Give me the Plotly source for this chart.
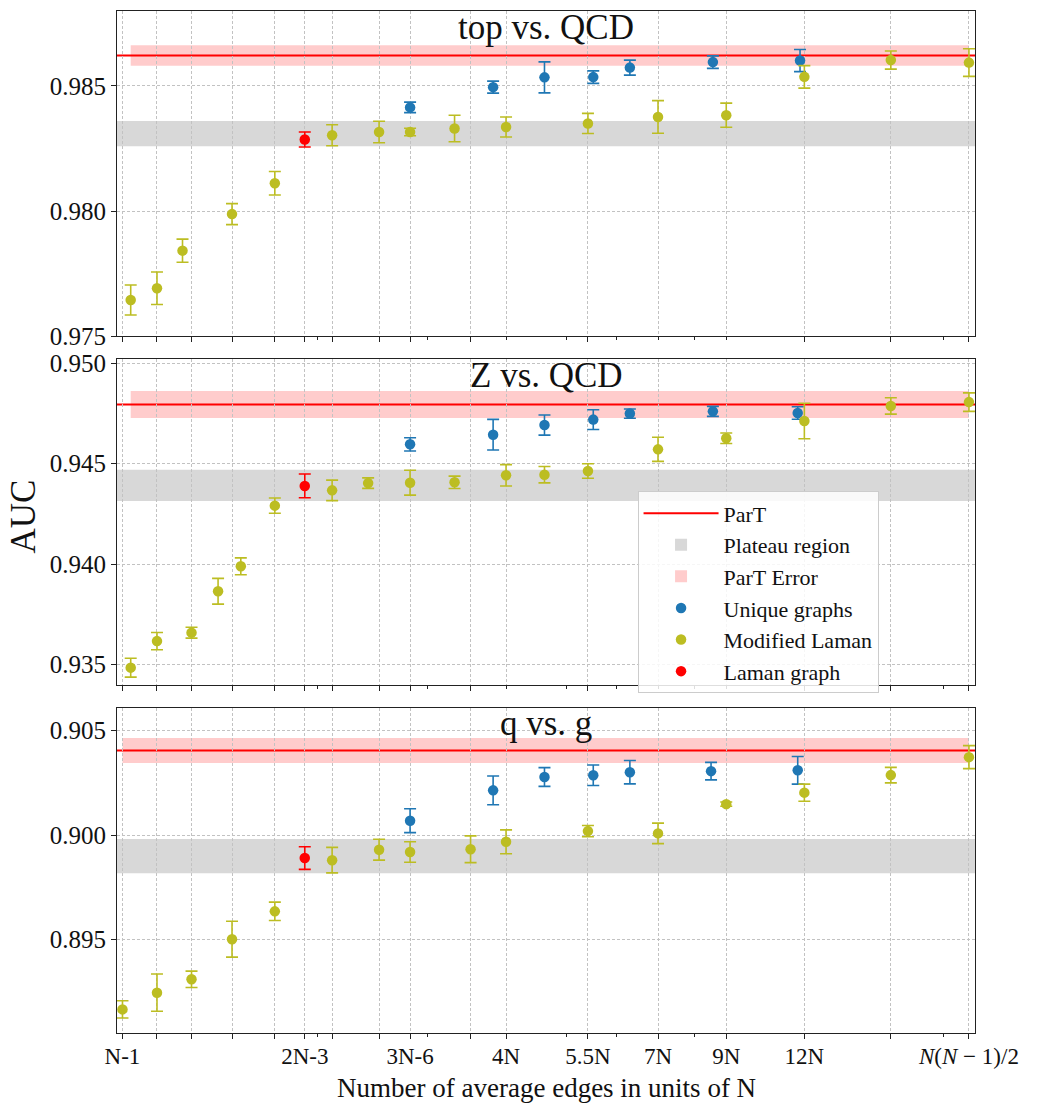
import plotly.graph_objects as go

# ---------------- data (x in units of N, log scale) ----------------
tick_vals = [0.974, 1.106, 1.256, 1.458, 1.707, 1.906, 2.108, 2.506, 2.809, 3.51,
             4.0, 5.408, 7.0, 9.0, 12.0, 16.5, 22.0]
tick_text = ["N-1", "", "", "", "", "2N-3", "", "", "3N-6", "", "4N", "5.5N",
             "7N", "9N", "12N", "", "<i>N</i>(<i>N</i> − 1)/2"]
minor_vals = [2, 3, 4, 5, 6, 7, 8, 9, 20]

panel_titles = ["top vs. QCD", "Z vs. QCD", "q vs. g"]

# top vs QCD
top_ml_x = [1.004, 1.106, 1.215, 1.458, 1.707, 2.108, 2.506, 2.809, 3.309, 4.0, 5.408, 7.0, 9.0, 12.0, 16.5, 22.0]
top_ml_auc = [0.97645, 0.97692, 0.97842, 0.97988, 0.98111, 0.98303, 0.98316, 0.98316, 0.98330, 0.98336,
              0.98350, 0.98376, 0.98383, 0.98536, 0.98603, 0.98593]
top_ml_err = [0.00060, 0.00065, 0.00046, 0.00042, 0.00047, 0.00042, 0.00043, 0.00015, 0.00053, 0.00040,
              0.00040, 0.00065, 0.00048, 0.00045, 0.00036, 0.00055]
top_ug_x = [2.809, 3.814, 4.608, 5.515, 6.311, 8.568, 11.81]
top_ug_auc = [0.98414, 0.98495, 0.98534, 0.98535, 0.98573, 0.98595, 0.98601]
top_ug_err = [0.00021, 0.00024, 0.00062, 0.00025, 0.00030, 0.00025, 0.00044]
top_lm_x = [1.906]
top_lm_auc = [0.98286]
top_lm_err = [0.00030]
top_part, top_part_err = 0.98621, 0.00041
top_plateau = (0.98259, 0.98360)
top_yrange = (0.975, 0.98799)
top_yticks = [0.975, 0.980, 0.985]

# Z vs QCD
z_ml_x = [1.004, 1.106, 1.256, 1.385, 1.506, 1.707, 2.108, 2.407, 2.809, 3.309, 4.0, 4.608, 5.408,
          7.0, 9.0, 12.0, 16.5, 22.0]
z_ml_auc = [0.93485, 0.93617, 0.93659, 0.93865, 0.93989, 0.94291, 0.94367, 0.94403, 0.94405, 0.94407,
            0.94442, 0.94445, 0.94463, 0.94571, 0.94626, 0.94712, 0.94787, 0.94806]
z_ml_err = [0.00047, 0.00043, 0.00027, 0.00064, 0.00042, 0.00038, 0.00051, 0.00026, 0.00062, 0.00031,
            0.00053, 0.00041, 0.00036, 0.00060, 0.00026, 0.00088, 0.00041, 0.00046]
z_ug_x = [2.809, 3.814, 4.608, 5.515, 6.311, 8.568, 11.71]
z_ug_auc = [0.94596, 0.94644, 0.94692, 0.94719, 0.94749, 0.94760, 0.94752]
z_ug_err = [0.00033, 0.00076, 0.00050, 0.00049, 0.00023, 0.00025, 0.00031]
z_lm_x = [1.906]
z_lm_auc = [0.94389]
z_lm_err = [0.00059]
z_part, z_part_err = 0.94794, 0.00067
z_plateau = (0.94314, 0.94470)
z_yrange = (0.93397, 0.95019)
z_yticks = [0.935, 0.940, 0.945, 0.950]

# q vs g
qg_ml_x = [0.974, 1.106, 1.256, 1.458, 1.707, 2.108, 2.506, 2.809, 3.51, 4.0, 5.408, 7.0, 9.0, 12.0, 16.5, 22.0]
qg_ml_auc = [0.89166, 0.89246, 0.89310, 0.89502, 0.89635, 0.89880, 0.89930, 0.89919, 0.89932, 0.89968,
             0.90019, 0.90008, 0.90148, 0.90203, 0.90287, 0.90373]
qg_ml_err = [0.00041, 0.00089, 0.00039, 0.00086, 0.00044, 0.00061, 0.00050, 0.00049, 0.00064, 0.00057,
             0.00027, 0.00049, 0.00010, 0.00041, 0.00037, 0.00055]
qg_ug_x = [2.809, 3.814, 4.608, 5.515, 6.311, 8.51, 11.71]
qg_ug_auc = [0.90069, 0.90214, 0.90278, 0.90286, 0.90301, 0.90306, 0.90310]
qg_ug_err = [0.00057, 0.00069, 0.00045, 0.00049, 0.00056, 0.00042, 0.00066]
qg_lm_x = [1.906]
qg_lm_auc = [0.89890]
qg_lm_err = [0.00054]
qg_part, qg_part_err = 0.90405, 0.00060
qg_plateau = (0.89817, 0.89981)
qg_yrange = (0.89053, 0.90610)
qg_yticks = [0.895, 0.900, 0.905]

# ---------------- style ----------------
FONT = "Liberation Serif"
C_UG = "#1f77b4"
C_ML = "#bcbd22"
C_LM = "#ff0000"
GRID = "#c2c2c2"

panels = [
    dict(ml=(top_ml_x, top_ml_auc, top_ml_err), ug=(top_ug_x, top_ug_auc, top_ug_err),
         lm=(top_lm_x, top_lm_auc, top_lm_err), part=(top_part, top_part_err),
         plateau=top_plateau, yr=top_yrange, yt=top_yticks, dom=[0.6817, 1.0]),
    dict(ml=(z_ml_x, z_ml_auc, z_ml_err), ug=(z_ug_x, z_ug_auc, z_ug_err),
         lm=(z_lm_x, z_lm_auc, z_lm_err), part=(z_part, z_part_err),
         plateau=z_plateau, yr=z_yrange, yt=z_yticks, dom=[0.3402, 0.6592]),
    dict(ml=(qg_ml_x, qg_ml_auc, qg_ml_err), ug=(qg_ug_x, qg_ug_auc, qg_ug_err),
         lm=(qg_lm_x, qg_lm_auc, qg_lm_err), part=(qg_part, qg_part_err),
         plateau=qg_plateau, yr=qg_yrange, yt=qg_yticks, dom=[0.0, 0.3184]),
]

fig = go.Figure()
shapes = []
annotations = []

xrange_log = [-0.0202, 1.3521]

for i, p in enumerate(panels):
    n = i + 1
    xa = "x" if n == 1 else f"x{n}"
    ya = "y" if n == 1 else f"y{n}"
    first = (i == 0)

    # plateau region (full width)
    shapes.append(dict(type="rect", xref=f"{xa} domain", yref=ya, x0=0, x1=1,
                       y0=p["plateau"][0], y1=p["plateau"][1], fillcolor="#d8d8d8",
                       line=dict(width=0), layer="below", showlegend=first,
                       name="Plateau region", legendrank=2))
    # ParT error band (over data x range)
    all_x = p["ml"][0] + p["ug"][0] + p["lm"][0]
    shapes.append(dict(type="rect", xref=xa, yref=ya, x0=min(all_x), x1=max(all_x),
                       y0=p["part"][0] - p["part"][1], y1=p["part"][0] + p["part"][1],
                       fillcolor="rgba(255,0,0,0.2)", line=dict(width=0), layer="below",
                       showlegend=first, name="ParT Error", legendrank=3))
    # ParT line
    shapes.append(dict(type="line", xref=f"{xa} domain", yref=ya, x0=0, x1=1,
                       y0=p["part"][0], y1=p["part"][0], line=dict(color="red", width=2),
                       layer="below", showlegend=first, name="ParT", legendrank=1))

    for key, color, name, rank in [("ug", C_UG, "Unique graphs", 4),
                                    ("ml", C_ML, "Modified Laman", 5),
                                    ("lm", C_LM, "Laman graph", 6)]:
        xs, ys, es = p[key]
        fig.add_trace(go.Scatter(
            x=xs, y=ys, mode="markers", name=name, legendrank=rank,
            showlegend=first, xaxis=xa, yaxis=ya,
            marker=dict(color=color, size=10.5),
            error_y=dict(type="data", array=es, color=color, thickness=1.6, width=6),
        ))

    ax_common = dict(type="log", range=xrange_log, tickmode="array", tickvals=tick_vals,
                     ticktext=tick_text if n == 3 else [""] * len(tick_vals),
                     showgrid=True, gridcolor=GRID, griddash="3px,2px", gridwidth=0.9,
                     showline=True, linecolor="#222", linewidth=1.2, mirror=True,
                     ticks="outside", ticklen=5, tickwidth=1, tickcolor="#222",
                     minor=dict(tickmode="array", tickvals=minor_vals, ticks="outside",
                                ticklen=2.5, tickwidth=1, tickcolor="#222", showgrid=False),
                     tickfont=dict(family=FONT, size=23, color="#111"),
                     ticklabelstandoff=-3,
                     anchor=ya, zeroline=False, automargin=False)
    if n > 1:
        ax_common["matches"] = "x"
    fig.layout[("xaxis" if n == 1 else f"xaxis{n}")] = ax_common
    fig.layout[("yaxis" if n == 1 else f"yaxis{n}")] = dict(
        domain=p["dom"], range=list(p["yr"]), tickmode="array", tickvals=p["yt"],
        ticktext=[f"{v:.3f}" for v in p["yt"]],
        showgrid=True, gridcolor=GRID, griddash="3px,2px", gridwidth=0.9,
        showline=True, linecolor="#222", linewidth=1.2, mirror=True,
        ticks="outside", ticklen=5, tickwidth=1, tickcolor="#222",
        tickfont=dict(family=FONT, size=25, color="#111"),
        anchor=xa, zeroline=False, automargin=False)

    annotations.append(dict(text=panel_titles[i], xref=f"{xa} domain", yref=f"{ya} domain",
                            x=0.5, y=0.95, xanchor="center", yanchor="middle", showarrow=False,
                            font=dict(family=FONT, size=35, color="#111")))

annotations.append(dict(text="AUC", xref="paper", yref="paper", x=-0.1088, y=0.505,
                        xanchor="center", yanchor="middle", textangle=-90, showarrow=False,
                        font=dict(family=FONT, size=35, color="#111")))
annotations.append(dict(text="Number of average edges in units of N", xref="paper", yref="paper",
                        x=0.5, y=-0.0535, xanchor="center", yanchor="middle", showarrow=False,
                        font=dict(family=FONT, size=27, color="#111")))

fig.update_layout(
    width=1042, height=1103,
    margin=dict(l=117, r=67, t=11, b=70, autoexpand=False),
    paper_bgcolor="white", plot_bgcolor="white",
    shapes=shapes, annotations=annotations,
    legend=dict(x=0.6067, y=0.530, xanchor="left", yanchor="top",
                bgcolor="rgba(255,255,255,0.85)", bordercolor="#cccccc", borderwidth=1,
                font=dict(family=FONT, size=22, color="#111"), itemwidth=75,
                tracegroupgap=0),
    font=dict(family=FONT, color="#111"),
)

fig.write_html("out.html")
